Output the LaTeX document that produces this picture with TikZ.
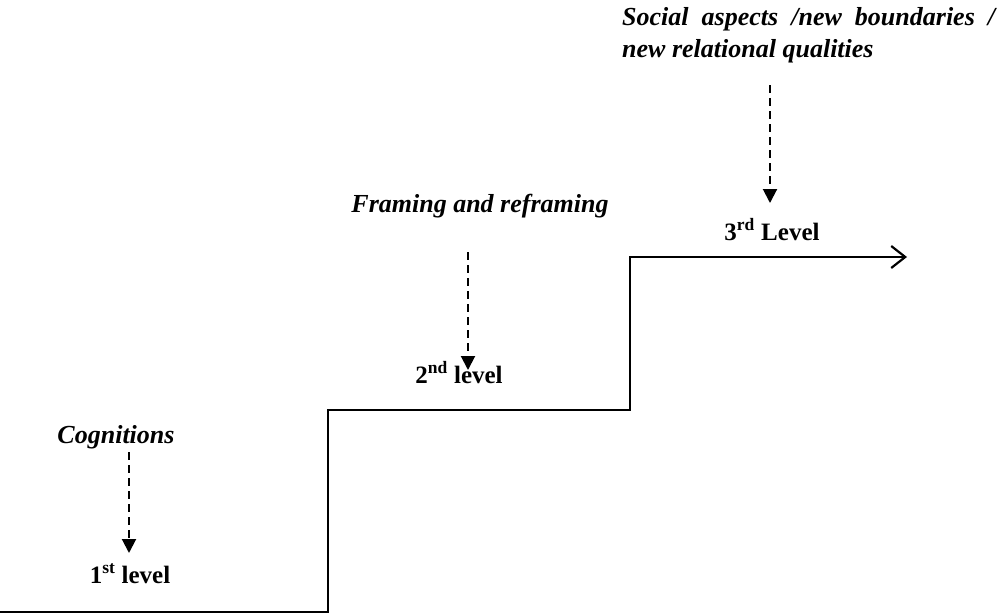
\documentclass[tikz,border=0pt]{standalone}
\usepackage{fontspec}
\setmainfont{Liberation Serif}
\usetikzlibrary{arrows.meta}
\begin{document}
\begin{tikzpicture}[x=1pt,y=-1pt,
  stepline/.style={line width=2.5pt,-{Straight Barb[length=14pt,width=22pt,line width=2.2pt]}},
  cue/.style={font=\fontsize{26}{32}\selectfont\bfseries\itshape,inner sep=0pt,anchor=base},
  levellabel/.style={font=\fontsize{25}{30}\selectfont\bfseries,inner sep=0pt,anchor=base},
  dasharrow/.style={line width=2pt,dash pattern=on 8pt off 5pt,-{Triangle[length=14pt,width=14pt]}}]
\useasboundingbox (0,0) rectangle (1002,614);

% staircase of levels
\coordinate (s0) at (0,612);
\coordinate (s1) at (328,612);
\coordinate (s2) at (328,410);
\coordinate (s3) at (630,410);
\coordinate (s4) at (630,257);
\coordinate (s5) at (907,257);
\draw[stepline] (s0) -- (s1) -- (s2) -- (s3) -- (s4) -- (s5);

% level 1
\node[cue] (cog) at (116,443) {Cognitions};
\node[levellabel] (l1) at (130,583) {1\textsuperscript{st} level};
\coordinate (a1s) at (129,452);
\coordinate (a1e) at (129,553);
\draw[dasharrow] (a1s) -- (a1e);

% level 2
\node[cue] (fr) at (480,212) {Framing and reframing};
\node[levellabel] (l2) at (459,383) {2\textsuperscript{nd} level};
\coordinate (a2s) at (468,252);
\coordinate (a2e) at (468,370);
\draw[dasharrow] (a2s) -- (a2e);

% level 3
\node[cue,anchor=north west,align=left] (soc) at (622,7)
  {\makebox[373pt][s]{Social aspects /new boundaries /}\\new relational qualities};
\node[levellabel] (l3) at (772,240) {3\textsuperscript{rd} Level};
\coordinate (a3s) at (770,85);
\coordinate (a3e) at (770,203);
\draw[dasharrow] (a3s) -- (a3e);
\end{tikzpicture}
\end{document}
